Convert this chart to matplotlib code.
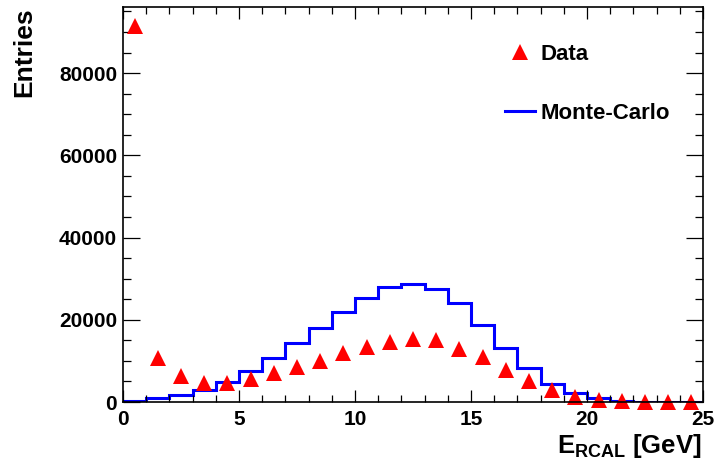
import matplotlib
matplotlib.use("Agg")
import matplotlib.pyplot as plt
from matplotlib.ticker import MultipleLocator
import numpy as np

plt.rcParams['font.family'] = ['Liberation Sans', 'DejaVu Sans']
plt.rcParams['font.weight'] = 'bold'
plt.rcParams['mathtext.fontset'] = 'custom'
plt.rcParams['mathtext.rm'] = 'Liberation Sans:bold'
plt.rcParams['mathtext.bf'] = 'Liberation Sans:bold'

# 1 GeV bins from 0 to 25
bin_edges = np.arange(0, 26, 1)
bin_centers = bin_edges[:-1] + 0.5

data_counts = [91500, 10700, 6300, 4600, 4700, 5600, 7100, 8500, 10000, 11900,
               13400, 14600, 15400, 15100, 12900, 11000, 7800, 5100, 2900, 1200,
               500, 200, 100, 50, 20]
mc_counts = [200, 1000, 1700, 2900, 4900, 7500, 10700, 14400, 18000, 22000,
             25400, 28000, 28800, 27600, 24100, 18800, 13200, 8300, 4400, 2200,
             1000, 300, 100, 100, 100]

fig = plt.figure(figsize=(7.16, 4.65), dpi=100)
ax = fig.add_axes([123 / 716, 1 - 402 / 465, 580 / 716, 395 / 465])

ax.stairs(mc_counts, bin_edges, color=(0, 0, 1), linewidth=2.2, label='Monte-Carlo')
ax.plot(bin_centers, data_counts, linestyle='none', marker='^', markersize=11,
        color=(1, 0, 0), markeredgewidth=0, clip_on=False, label='Data')

ax.set_xlim(0, 25)
ax.set_ylim(0, 1.05 * max(data_counts))

ax.xaxis.set_major_locator(MultipleLocator(5))
ax.xaxis.set_minor_locator(MultipleLocator(1))
ax.yaxis.set_major_locator(MultipleLocator(20000))
ax.yaxis.set_minor_locator(MultipleLocator(5000))

ax.tick_params(axis='both', which='both', direction='in', top=True, right=True,
               width=0.9, labelsize=15)
ax.tick_params(axis='x', which='major', length=8.6, pad=6)
ax.tick_params(axis='x', which='minor', length=5)
ax.tick_params(axis='y', which='major', length=12, pad=4.3)
ax.tick_params(axis='y', which='minor', length=6)
for lab in ax.get_xticklabels() + ax.get_yticklabels():
    lab.set_fontweight('bold')
for sp in ax.spines.values():
    sp.set_linewidth(1.2)

fig.text(24 / 716, 1 - 7 / 465, 'Entries', rotation=90, ha='center', va='top',
         fontsize=19, fontweight='bold')
fig.text(702 / 716, 1 - 453 / 465, r'$\mathrm{E_{RCAL}}$ [GeV]', ha='right',
         va='baseline', fontsize=18.5, fontweight='bold')

handles, labels = ax.get_legend_handles_labels()
ax.legend(handles[::-1], labels[::-1], loc='upper left',
          bbox_to_anchor=((505 - 123) / 580, (402 - 44) / 395),
          frameon=False, fontsize=16, handlelength=1.35, handletextpad=0.27,
          labelspacing=1.72, borderpad=0, borderaxespad=0)

fig.savefig('out.png', dpi=100)
